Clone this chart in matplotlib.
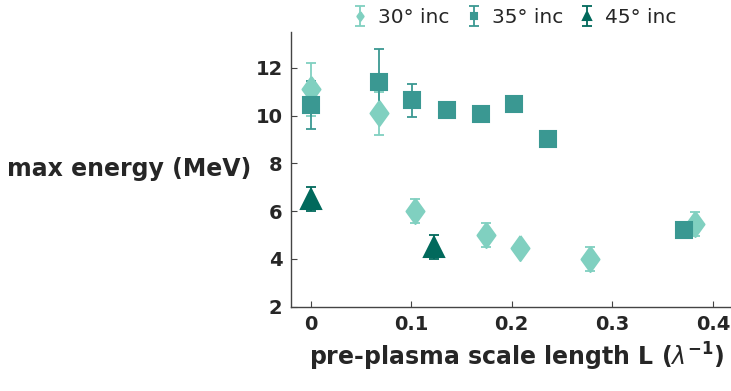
import numpy as np
import matplotlib
matplotlib.use("Agg")
import matplotlib.pyplot as plt

# 30 deg incidence
x30 = [0.0, 0.068, 0.104, 0.174, 0.208, 0.278, 0.382]
y30 = [11.1, 10.1, 6.0, 5.0, 4.45, 4.0, 5.45]
e30 = [1.1, 0.9, 0.5, 0.5, 0.0, 0.5, 0.5]

# 35 deg incidence
x35 = [0.0, 0.068, 0.101, 0.136, 0.169, 0.202, 0.236, 0.371]
y35 = [10.45, 11.4, 10.64, 10.25, 10.08, 10.5, 9.0, 5.22]
e35 = [1.0, 1.4, 0.68, 0.0, 0.0, 0.0, 0.0, 0.0]

# 45 deg incidence
x45 = [0.0, 0.123]
y45 = [6.5, 4.5]
e45 = [0.5, 0.5]

labels = ["30° inc", "35° inc", "45° inc"]
colors = ["#80d0c0", "#3a9892", "#01695c"]

plt.rcParams["font.family"] = ["DejaVu Sans"]

diamond = [(0, 1), (0.72, 0), (0, -1), (-0.72, 0), (0, 1)]

fig = plt.figure(figsize=(7.31, 3.91), dpi=100)
ax = fig.add_axes([0.398, 0.216, 0.602, 0.702])

series = [
    (x30, y30, e30, diamond, 18),
    (x35, y35, e35, "s", 11),
    (x45, y45, e45, "^", 15),
]
handles = []
for (x, y, e, m, ms), lab, c in zip(series, labels, colors):
    h = ax.errorbar(x, y, yerr=e, fmt="o", marker=m, linestyle="none", ms=ms,
                    color=c, mec=c, mfc=c, ecolor=c, elinewidth=1.3,
                    capsize=3.5, capthick=1.3, label=lab)
    h.lines[0].set_markeredgewidth(1.5)
    handles.append(h)

ax.set_xlim(-0.0195, 0.418)
ax.set_ylim(2, 13.5)
ax.set_xticks([0, 0.1, 0.2, 0.3, 0.4])
ax.set_xticklabels(["0", "0.1", "0.2", "0.3", "0.4"])
ax.set_yticks([2, 4, 6, 8, 10, 12])
for s in ["top", "right"]:
    ax.spines[s].set_visible(False)
for s in ["left", "bottom"]:
    ax.spines[s].set_color("#444444")
    ax.spines[s].set_linewidth(1.0)
ax.tick_params(direction="in", length=4, width=0.8, colors="#444444",
               labelcolor="#262626", labelsize=14, pad=6)
for t in ax.get_xticklabels() + ax.get_yticklabels():
    t.set_fontweight("bold")

ax.set_xlabel(r"pre-plasma scale length L ($\lambda^{\mathbf{-1}}$)",
              fontsize=17, fontweight="bold", color="#262626")
ax.xaxis.set_label_coords(0.514, -0.125, transform=ax.transAxes)
ax.xaxis.label.set_va("top")
ax.set_ylabel("max energy (MeV)", fontsize=17, fontweight="bold",
              color="#262626", rotation=0, ha="right", va="center", labelpad=3)

ax.legend(handles=handles, loc="lower center", bbox_to_anchor=(0.51, 0.99),
          ncol=3, frameon=False, fontsize=14.5, markerscale=0.35,
          handlelength=0.6, handletextpad=0.6, columnspacing=0.9,
          borderaxespad=0.0, labelcolor="#262626")

fig.savefig("out.png", dpi=100)
